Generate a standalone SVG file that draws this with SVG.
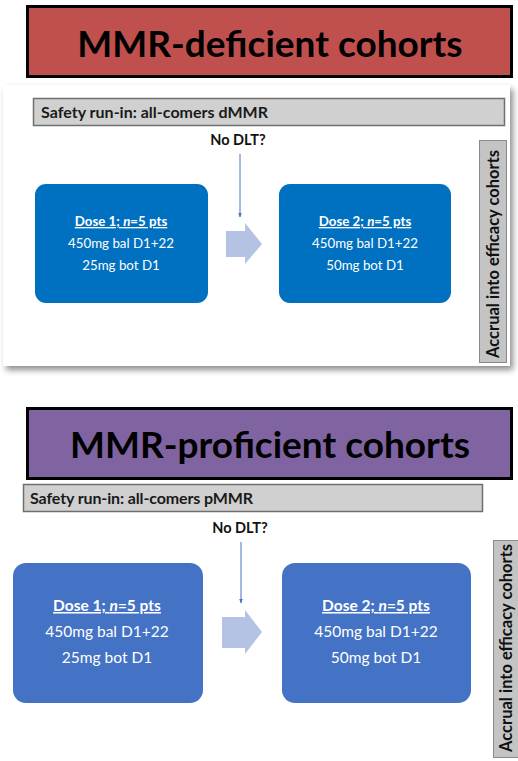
<svg xmlns="http://www.w3.org/2000/svg" width="518" height="761" viewBox="0 0 518 761">
<style>
text{font-family:Lato,"Open Sans","Liberation Sans",sans-serif;font-weight:bold}
.title{font-size:37px;fill:#000;text-anchor:middle}
.bar{fill:#d0d0d0;stroke:#6f6f6f;stroke-width:1.5}
.bart{font-size:16px;fill:#1a1a1a}
.nodlt{font-size:14.5px;fill:#111;text-anchor:middle}
.dose1{fill:#0070c0}
.dose2{fill:#4472c4}
.dt{fill:#fff;text-anchor:middle;font-weight:normal}
.dh{font-weight:bold;text-decoration:underline}
.blk{fill:#b4c2e4}
.vbar{fill:#c4c4c4;stroke:#8a8a8a;stroke-width:1}
.vt{font-size:16.5px;fill:#111;text-anchor:middle}
.ln{stroke:#4a72c4;stroke-width:1}
</style>
<defs>
<marker id="ah" viewBox="0 0 10 10" refX="9" refY="5" markerWidth="5" markerHeight="5" orient="auto"><path d="M0,1 L10,5 L0,9 z" fill="#4a72c4"/></marker>
<filter id="sh" x="-5%" y="-5%" width="112%" height="115%"><feGaussianBlur in="SourceAlpha" stdDeviation="3"/><feOffset dx="3" dy="4"/><feComponentTransfer><feFuncA type="linear" slope="0.45"/></feComponentTransfer><feMerge><feMergeNode/><feMergeNode in="SourceGraphic"/></feMerge></filter>
</defs>
<rect width="518" height="761" fill="#fff"/>

<g id="title-dmmr">
<rect x="27.5" y="6.5" width="484" height="70" fill="#c0504d" stroke="#000" stroke-width="3"/>
<text class="title" x="270" y="57">MMR-deficient cohorts</text>
</g>

<g id="panel-dmmr">
<rect x="3" y="85" width="507" height="281" fill="#fff" filter="url(#sh)"/>
</g>

<g id="safety-dmmr">
<rect class="bar" x="33.5" y="98.5" width="471" height="27"/>
<text class="bart" x="41" y="118" textLength="227">Safety run-in: all-comers dMMR</text>
</g>
<g id="nodlt-dmmr"><text class="nodlt" x="238" y="145">No DLT?</text></g>

<g id="dose1-dmmr">
<rect class="dose1" x="35" y="184" width="173" height="119" rx="11"/>
<text class="dt" font-size="13.3"><tspan class="dh" x="121" y="226">Dose 1; <tspan font-style="italic">n</tspan>=5 pts</tspan><tspan x="121" y="248">450mg bal D1+22</tspan><tspan x="121" y="270">25mg bot D1</tspan></text>
</g>
<g id="dose2-dmmr">
<rect class="dose1" x="279" y="184" width="172" height="119" rx="11"/>
<text class="dt" font-size="13.3"><tspan class="dh" x="365" y="226">Dose 2; <tspan font-style="italic">n</tspan>=5 pts</tspan><tspan x="365" y="248">450mg bal D1+22</tspan><tspan x="365" y="270">50mg bot D1</tspan></text>
</g>
<g id="accrual-dmmr">
<rect class="vbar" x="479.5" y="140.5" width="27" height="222"/>
<text class="vt" transform="translate(499,254) rotate(-90)">Accrual into efficacy cohorts</text>
</g>

<g id="title-pmmr">
<rect x="27.5" y="408.5" width="484" height="70" fill="#8064a2" stroke="#000" stroke-width="3"/>
<text class="title" x="270" y="458">MMR-proficient cohorts</text>
</g>

<g id="safety-pmmr">
<rect class="bar" x="23.5" y="484.5" width="459" height="27"/>
<text class="bart" x="30" y="504" textLength="223">Safety run-in: all-comers pMMR</text>
</g>
<g id="nodlt-pmmr"><text class="nodlt" x="240" y="533">No DLT?</text></g>

<g id="dose1-pmmr">
<rect class="dose2" x="13" y="563" width="190" height="140" rx="13"/>
<text class="dt" font-size="15.5"><tspan class="dh" x="107" y="611">Dose 1; <tspan font-style="italic">n</tspan>=5 pts</tspan><tspan x="107" y="637">450mg bal D1+22</tspan><tspan x="107" y="663">25mg bot D1</tspan></text>
</g>
<g id="dose2-pmmr">
<rect class="dose2" x="282" y="563" width="189" height="140" rx="13"/>
<text class="dt" font-size="15.5"><tspan class="dh" x="376" y="611">Dose 2; <tspan font-style="italic">n</tspan>=5 pts</tspan><tspan x="376" y="637">450mg bal D1+22</tspan><tspan x="376" y="663">50mg bot D1</tspan></text>
</g>
<g id="accrual-pmmr">
<rect class="vbar" x="493.5" y="540.5" width="28" height="217"/>
<text class="vt" transform="translate(512,648) rotate(-90)">Accrual into efficacy cohorts</text>
</g>

<g id="connectors">
<line class="ln" x1="240" y1="154" x2="240" y2="217" marker-end="url(#ah)"/>
<path class="blk" d="M226,231 H245 V223 L262,244 L245,264 V257 H226 Z"/>
<line class="ln" x1="241" y1="542" x2="241" y2="603" marker-end="url(#ah)"/>
<path class="blk" d="M222,617 H245 V610 L262,632 L245,654 V648 H222 Z"/>
</g>
</svg>
